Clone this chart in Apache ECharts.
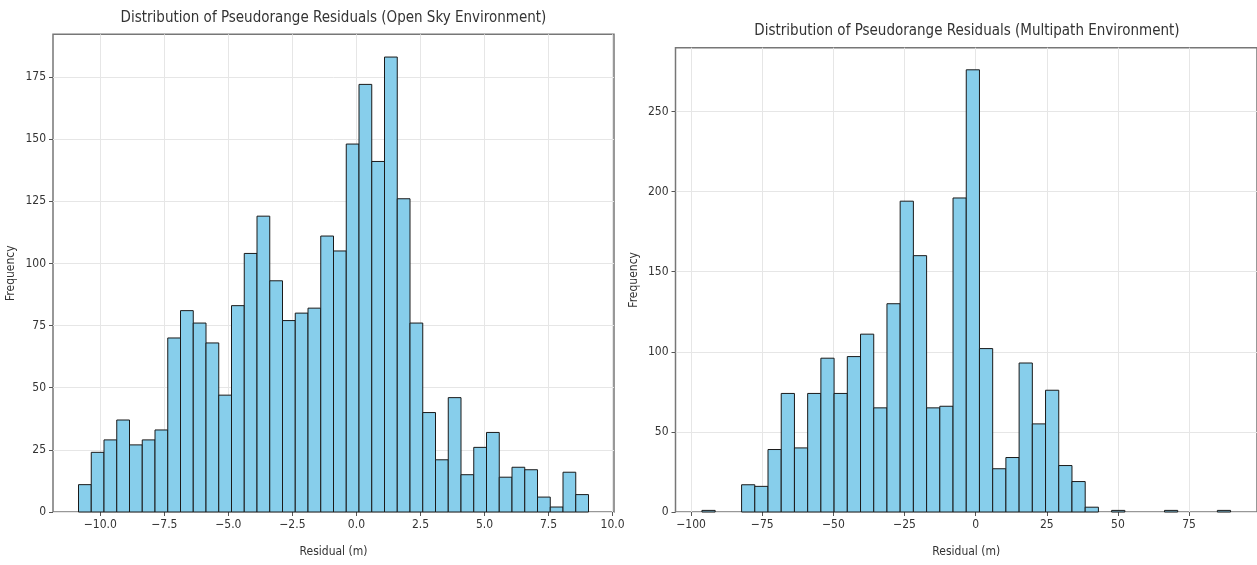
<!DOCTYPE html>
<html><head><meta charset="utf-8">
<script src="https://cdn.jsdelivr.net/npm/echarts@6/dist/echarts.min.js"></script>
<style>html,body{margin:0;padding:0;background:#fff}#c{width:1257px;height:565px}</style>
</head><body><div id="c"></div>
<script>
// ---- data ----
const openSkyTitle = 'Distribution of Pseudorange Residuals (Open Sky Environment)';
const multipathTitle = 'Distribution of Pseudorange Residuals (Multipath Environment)';
const xAxisName = 'Residual (m)';
const yAxisName = 'Frequency';

const openSkyBinStart = -10.85;
const openSkyBinWidth = 0.4977;
const openSkyCounts = [11,24,29,37,27,29,33,70,81,76,68,47,83,104,119,93,77,80,82,111,105,148,172,141,183,126,76,40,21,46,15,26,32,14,18,17,6,2,16,7];
const openSkyXTicks = [-10,-7.5,-5,-2.5,0,2.5,5,7.5,10];
const openSkyYTicks = [0,25,50,75,100,125,150,175];

const multipathBinStart = -96.2;
const multipathBinWidth = 4.645;
const multipathCounts = [1,0,0,17,16,39,74,40,74,96,74,97,111,65,130,194,160,65,66,196,276,102,27,34,93,55,76,29,19,3,0,1,0,0,0,1,0,0,0,1];
const multipathXTicks = [-100,-75,-50,-25,0,25,50,75];
const multipathYTicks = [0,50,100,150,200,250];

// ---- chart ----
const FONT = "'DejaVu Sans Condensed', 'Liberation Sans Narrow', 'DejaVu Sans', sans-serif";
const TXT = '#333';
const fmtMinus = s => String(s).replace('-', '\u2212');

function histData(start, width, counts) {
  return counts.map((c, i) => [start + i * width, start + (i + 1) * width, c]);
}
function extentOf(start, width, counts) {
  const lo = start, hi = start + counts.length * width, m = (hi - lo) * 0.05;
  return [lo - m, hi + m];
}
function histSeries(idx, start, width, counts) {
  return {
    type: 'custom', xAxisIndex: idx, yAxisIndex: idx, silent: true,
    data: histData(start, width, counts),
    encode: { x: [0, 1], y: 2 },
    renderItem(params, api) {
      const v = api.value(2);
      if (!v) return { type: 'group', children: [] };
      const a = api.coord([api.value(0), v]);
      const b = api.coord([api.value(1), 0]);
      return { type: 'rect', shape: { x: a[0], y: a[1], width: b[0] - a[0], height: b[1] - a[1] },
        style: { fill: '#87CEEB', stroke: '#1a1a1a', lineWidth: 1 } };
    }
  };
}
function xAxisOf(idx, ext, ticks, fmt) {
  return {
    type: 'value', gridIndex: idx, min: ext[0], max: ext[1],
    name: xAxisName, nameLocation: 'middle', nameGap: 34,
    nameTextStyle: { fontFamily: FONT, fontSize: 12, color: TXT },
    axisLine: { show: false, onZero: false },
    axisTick: { show: true, length: 4, customValues: ticks, lineStyle: { color: '#555' } },
    axisLabel: { customValues: ticks, formatter: v => fmtMinus(fmt(v)), fontFamily: FONT, fontSize: 12, color: TXT, margin: 7 },
    splitLine: { show: true, lineStyle: { color: '#e6e6e6', width: 1 } }
  };
}
function yAxisOf(idx, max, ticks) {
  return {
    type: 'value', gridIndex: idx, min: 0, max: max,
    name: yAxisName, nameLocation: 'middle', nameGap: 36,
    nameTextStyle: { fontFamily: FONT, fontSize: 12, color: TXT },
    axisLine: { show: false, onZero: false },
    axisTick: { show: true, length: 4, customValues: ticks, lineStyle: { color: '#555' } },
    axisLabel: { customValues: ticks, fontFamily: FONT, fontSize: 12, color: TXT, margin: 7 },
    splitLine: { show: true, lineStyle: { color: '#e6e6e6', width: 1 } }
  };
}

const extA = extentOf(openSkyBinStart, openSkyBinWidth, openSkyCounts);
const extB = extentOf(multipathBinStart, multipathBinWidth, multipathCounts);
const maxA = Math.max(...openSkyCounts) * 1.05;
const maxB = Math.max(...multipathCounts) * 1.05;

const chart = echarts.init(document.getElementById('c'));
chart.setOption({
  animation: false,
  backgroundColor: '#fff',
  grid: [
    { left: 53, right: 643, top: 34.3, bottom: 53, show: true, borderColor: '#777', borderWidth: 1.5, containLabel: false },
    { left: 675.5, right: -3.3, top: 47.7, bottom: 53, show: true, borderColor: '#777', borderWidth: 1.5, containLabel: false }
  ],
  xAxis: [
    xAxisOf(0, extA, openSkyXTicks, v => v.toFixed(1)),
    xAxisOf(1, extB, multipathXTicks, v => String(Math.round(v)))
  ],
  yAxis: [ yAxisOf(0, maxA, openSkyYTicks), yAxisOf(1, maxB, multipathYTicks) ],
  series: [
    histSeries(0, openSkyBinStart, openSkyBinWidth, openSkyCounts),
    histSeries(1, multipathBinStart, multipathBinWidth, multipathCounts)
  ],
  graphic: [
    { type: 'text', x: 333.5, y: 18, style: { text: openSkyTitle, fontFamily: FONT, fontSize: 15, fill: TXT, align: 'center', verticalAlign: 'middle' } },
    { type: 'text', x: 967, y: 31, style: { text: multipathTitle, fontFamily: FONT, fontSize: 15, fill: TXT, align: 'center', verticalAlign: 'middle' } }
  ]
});
</script></body></html>
